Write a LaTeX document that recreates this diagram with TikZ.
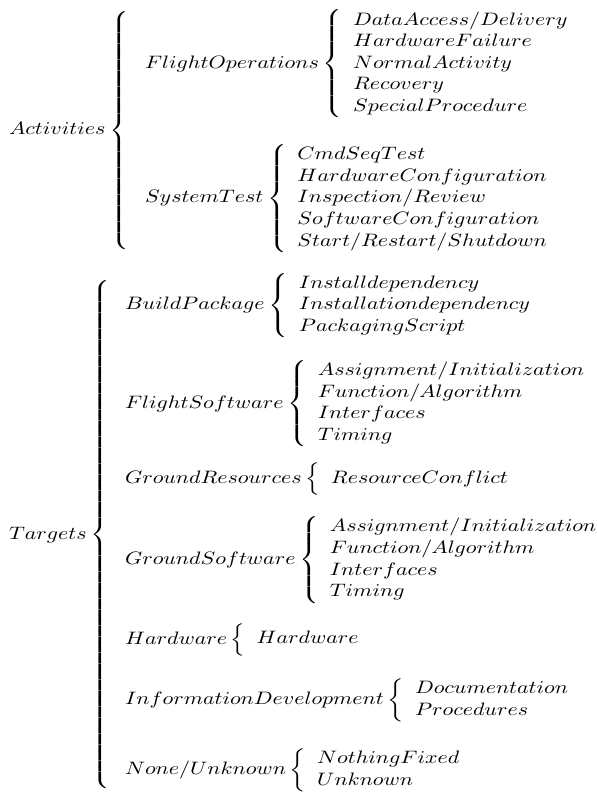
\documentclass[tikz,border=0pt]{standalone}
\usepackage{graphicx}
\newcommand{\hs}[1]{\scalebox{1.22}[1]{#1}}
\newcommand{\grp}[2]{\hs{$#1\left\{\begin{array}{l}#2\end{array}\right.$}}
\newcommand{\grpone}[2]{\hs{$#1\left\{\vphantom{\Big\{}\begin{array}{l}#2\end{array}\right.$}}
\newcommand{\topgrp}[2]{\hs{$#1\left\{\vcenter{\hbox{\rule{0pt}{#2}}}\right.$}}
\tikzset{lbl/.style={inner sep=0pt, outer sep=0pt, anchor=base west}}
\begin{document}
\begin{tikzpicture}[x=0.5556pt, y=-0.5556pt]
\useasboundingbox (0,0) rectangle (596,792);
% top level
\node[lbl] (act) at (9,135) {\topgrp{Activities}{134pt}};
\node[lbl] (tar) at (9,539) {\topgrp{Targets}{284pt}};
% Activities
\node[lbl] (fo) at (145,68.5) {\grp{FlightOperations}{DataAccess/Delivery\\HardwareFailure\\NormalActivity\\Recovery\\SpecialProcedure}};
\node[lbl] (st) at (145,203) {\grp{SystemTest}{CmdSeqTest\\HardwareConfiguration\\Inspection/Review\\SoftwareConfiguration\\Start/Restart/Shutdown}};
% Targets
\node[lbl] (bp) at (125,310) {\grp{BuildPackage}{Installdependency\\Installationdependency\\PackagingScript}};
\node[lbl] (fs) at (125,408) {\grp{FlightSoftware}{Assignment/Initialization\\Function/Algorithm\\Interfaces\\Timing}};
\node[lbl] (gr) at (125,483.5) {\grpone{GroundResources}{ResourceConflict}};
\node[lbl] (gs) at (125,564.5) {\grp{GroundSoftware}{Assignment/Initialization\\Function/Algorithm\\Interfaces\\Timing}};
\node[lbl] (hw) at (125,644) {\grpone{Hardware}{Hardware}};
\node[lbl] (id) at (125,704.5) {\grp{InformationDevelopment}{Documentation\\Procedures}};
\node[lbl] (nu) at (125,774.5) {\grp{None/Unknown}{NothingFixed\\Unknown}};
\end{tikzpicture}
\end{document}
